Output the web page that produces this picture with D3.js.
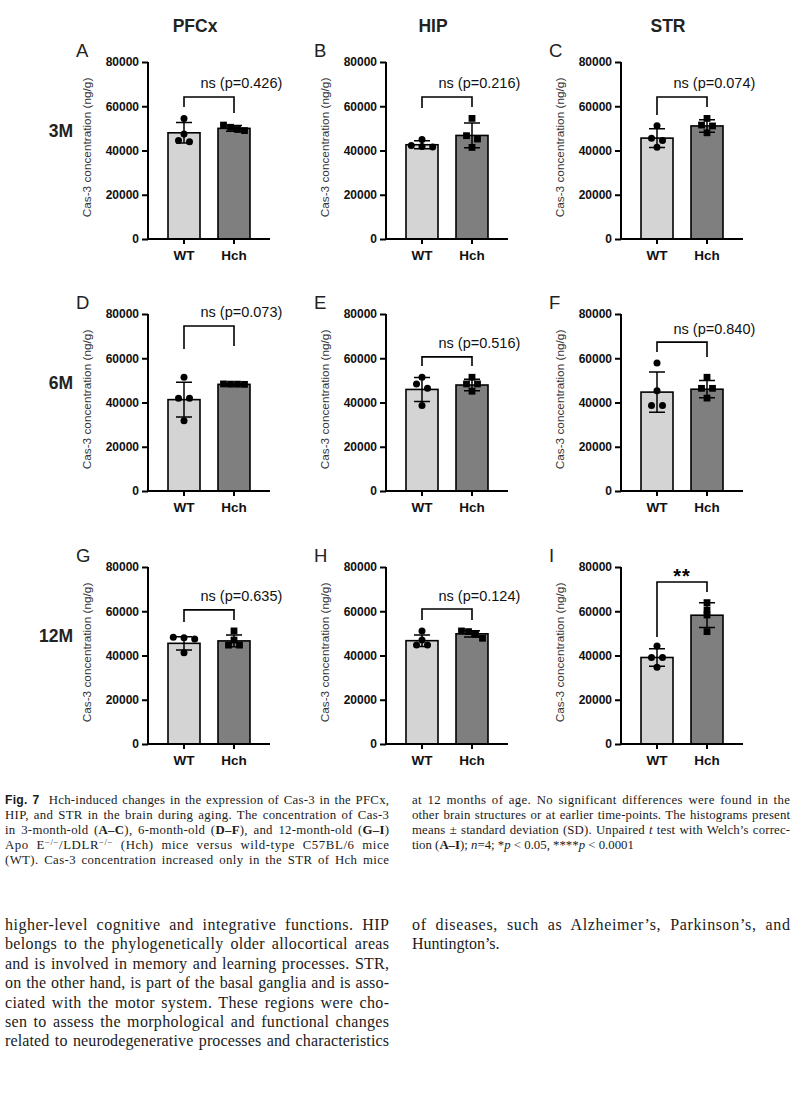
<!DOCTYPE html>
<html><head><meta charset="utf-8">
<script src="https://cdn.jsdelivr.net/npm/d3@7"></script>
<style>body{margin:0;background:#fff} svg{display:block}</style>
</head><body>
<svg id="c" width="799" height="1100"></svg>
<script>
// ---------- data ----------
const regions = ["PFCx", "HIP", "STR"];
const ages = ["3M", "6M", "12M"];
const panelLetters = ["A", "B", "C", "D", "E", "F", "G", "H", "I"];
const groups = ["WT", "Hch"];
const yTicks = [0, 20000, 40000, 60000, 80000];
const wtMean = [48000, 42600, 45600, 41300, 45900, 44700, 45500, 46700, 39100];
const wtSD = [4600, 1800, 4200, 7800, 5400, 9100, 3000, 2600, 4000];
const hchMean = [50000, 46800, 51100, 48200, 47900, 46000, 46600, 49800, 58200];
const hchSD = [1300, 5600, 2800, 250, 2600, 3900, 2700, 1400, 5600];
const wtPoints = [
  [54500, 47500, 44500, 44000],
  [45000, 42300, 41800, 41600],
  [51200, 45500, 44500, 41500],
  [51400, 41900, 41900, 31800],
  [51400, 48400, 46400, 38600],
  [57900, 45300, 38600, 38600],
  [48200, 48000, 47500, 41200],
  [51100, 47000, 44700, 44700],
  [44300, 39100, 39100, 34700]
];
const hchPoints = [
  [51500, 50500, 49500, 49000],
  [54500, 46700, 45200, 41400],
  [54500, 51500, 51100, 48000],
  [48400, 48300, 48300, 48200],
  [51400, 48400, 48400, 45100],
  [51400, 46400, 46400, 42000],
  [51100, 47000, 44700, 44700],
  [51100, 50800, 49600, 47800],
  [63900, 60600, 58300, 50800]
];
const sigLabels = ["ns (p=0.426)", "ns (p=0.216)", "ns (p=0.074)", "ns (p=0.073)", "ns (p=0.516)",
                   "ns (p=0.840)", "ns (p=0.635)", "ns (p=0.124)", "**"];
const bracketTop = [64200, 64200, 64200, 74600, 60600, 67300, 60600, 61000, 73200];
const bracketWT = [59700, 59200, 56000, 64200, 56500, 62800, 55100, 56000, 48400];
const bracketHch = [57000, 59700, 59700, 65500, 56500, 60600, 56000, 56000, 68700];
const yLabel = "Cas-3 concentration (ng/g)";

// ---------- layout ----------
const svg = d3.select("#c");
const colX = [148, 386, 621];
const rowY = [62, 314, 567];
const PH = 177, PW = 122;
const sans = "'Liberation Sans', Arial, Helvetica, sans-serif";
const serif = "'Liberation Serif', 'Times New Roman', serif";
const fills = {WT: "#d4d4d4", Hch: "#7f7f7f"};

regions.forEach((r, c) => {
  svg.append("text").attr("x", colX[c] + 47).attr("y", 32).attr("text-anchor", "middle")
    .attr("font-family", sans).attr("font-weight", "bold").attr("font-size", 17.5).attr("fill", "#222").text(r);
});
ages.forEach((a, r) => {
  svg.append("text").attr("x", 73).attr("y", rowY[r] + 75).attr("text-anchor", "end")
    .attr("font-family", sans).attr("font-weight", "bold").attr("font-size", 17.5).attr("fill", "#222").text(a);
});

function swarm(vals, y) {
  const pts = vals.map(v => ({v, py: y(v)})).sort((a, b) => a.py - b.py);
  const clusters = [];
  pts.forEach(p => {
    const last = clusters[clusters.length - 1];
    if (last && p.py - last[last.length - 1].py < 4.5) last.push(p); else clusters.push([p]);
  });
  clusters.forEach(cl => {
    const n = cl.length;
    const sp = n === 2 ? 11 : n === 3 ? 10.7 : 7;
    cl.forEach((p, i) => p.dx = (i - (n - 1) / 2) * sp);
  });
  return pts;
}

panelLetters.forEach((L, i) => {
  const c = i % 3, r = Math.floor(i / 3);
  const x0 = colX[c], yTop = rowY[r];
  const y = d3.scaleLinear().domain([0, 80000]).range([yTop + PH, yTop]);
  const x = d3.scaleBand().domain(groups).range([x0, x0 + PW]).paddingInner(0.36).paddingOuter(0.4);
  const bw = x.bandwidth();
  const g = svg.append("g");

  g.append("text").attr("x", x0 - 72).attr("y", yTop - 5).attr("font-family", sans)
    .attr("font-size", 18.5).attr("fill", "#222").text(L);

  g.append("text").attr("transform", `translate(${x0 - 57},${yTop + PH / 2 - 3}) rotate(-90)`)
    .attr("text-anchor", "middle").attr("font-family", sans).attr("font-size", 11.8).attr("fill", "#333").text(yLabel);

  const means = [wtMean[i], hchMean[i]], sds = [wtSD[i], hchSD[i]], pts = [wtPoints[i], hchPoints[i]];

  groups.forEach((gr, k) => {
    const cx = x(gr) + bw / 2;
    g.append("rect").attr("x", x(gr)).attr("y", y(means[k])).attr("width", bw)
      .attr("height", y(0) - y(means[k])).attr("fill", fills[gr]).attr("stroke", "#000").attr("stroke-width", 1.6);
    const lo = y(means[k] - sds[k]), hi = y(means[k] + sds[k]);
    g.append("path").attr("d", `M${cx},${lo}V${hi}M${cx - 8},${hi}H${cx + 8}M${cx - 8},${lo}H${cx + 8}`)
      .attr("stroke", "#000").attr("stroke-width", 1.5).attr("fill", "none");
    swarm(pts[k], y).forEach(p => {
      if (gr === "WT") g.append("circle").attr("cx", cx + p.dx).attr("cy", p.py).attr("r", 3.5).attr("fill", "#000");
      else g.append("rect").attr("x", cx + p.dx - 3.4).attr("y", p.py - 3.4).attr("width", 6.8).attr("height", 6.8).attr("fill", "#000");
    });
  });

  const ya = d3.axisLeft(y).tickValues(yTicks).tickSize(6).tickSizeOuter(0).tickPadding(3).tickFormat(d3.format("d"));
  const yg = g.append("g").attr("transform", `translate(${x0},0)`).call(ya);
  yg.select(".domain").attr("stroke-width", 2).attr("d", `M0,${y(0) + 1}V${y(80000)}`);
  yg.selectAll(".tick line").attr("stroke-width", 2);
  yg.selectAll(".tick text").attr("font-family", sans).attr("font-weight", "bold").attr("font-size", 12).attr("fill", "#111");
  const xa = d3.axisBottom(x).tickSize(5).tickSizeOuter(0).tickPadding(6);
  const xg = g.append("g").attr("transform", `translate(0,${y(0)})`).call(xa);
  xg.select(".domain").attr("stroke-width", 2).attr("d", `M${x0 - 1},0H${x0 + PW}`);
  xg.selectAll(".tick line").attr("stroke-width", 2);
  xg.selectAll(".tick text").attr("font-family", sans).attr("font-weight", "bold").attr("font-size", 13.5).attr("fill", "#111");

  const xa1 = x("WT") + bw / 2, xa2 = x("Hch") + bw / 2;
  g.append("path").attr("d", `M${xa1},${y(bracketWT[i])}V${y(bracketTop[i])}H${xa2}V${y(bracketHch[i])}`)
    .attr("stroke", "#000").attr("stroke-width", 1.6).attr("fill", "none");
  const mid = (xa1 + xa2) / 2;
  if (sigLabels[i] === "**") {
    g.append("text").attr("x", mid).attr("y", y(bracketTop[i]) + 1).attr("text-anchor", "middle")
      .attr("font-family", sans).attr("font-weight", "bold").attr("font-size", 20).attr("letter-spacing", 1).attr("fill", "#000").text("**");
  } else {
    g.append("text").attr("x", mid - 8.5).attr("y", y(bracketTop[i]) - 8.5)
      .attr("font-family", sans).attr("font-size", 14.5).attr("fill", "#111").text(sigLabels[i]);
  }
});

// ---------- caption & body text ----------
function textLine(x, y, w, parts, size, justify) {
  const t = svg.append("text").attr("x", x).attr("y", y).attr("font-family", serif)
    .attr("font-size", size).attr("fill", "#1a1a1a").style("white-space", "pre");
  let shift = 0;
  parts.forEach(p => {
    const [s, st] = typeof p === "string" ? [p, ""] : p;
    const ts = t.append("tspan").text(s);
    if (st.includes("b")) ts.attr("font-weight", "bold");
    if (st.includes("i")) ts.attr("font-style", "italic");
    if (st.includes("f")) ts.attr("font-family", sans).attr("font-size", size * 0.95);
    const target = st.includes("s") ? -4.5 : 0;
    if (target !== shift) { ts.attr("dy", target - shift); shift = target; }
    if (st.includes("s")) ts.attr("font-size", size * 0.68);
  });
  if (justify) {
    const nat = t.node().getComputedTextLength();
    const nSp = (t.text().match(/ /g) || []).length;
    if (nat < w && nSp > 0) t.attr("word-spacing", 0.45 * (w - nat) / nSp);
    t.attr("textLength", w).attr("lengthAdjust", nat < w ? "spacing" : "spacingAndGlyphs");
  }
}

const capL = [
  [["Fig. 7", "bf"], "  Hch-induced changes in the expression of Cas-3 in the PFCx,"],
  ["HIP, and STR in the brain during aging. The concentration of Cas-3"],
  ["in 3-month-old (", ["A–C", "b"], "), 6-month-old (", ["D–F", "b"], "), and 12-month-old (", ["G–I", "b"], ")"],
  ["Apo E", ["−/−", "s"], "/LDLR", ["−/−", "s"], " (Hch) mice versus wild-type C57BL/6 mice"],
  ["(WT). Cas-3 concentration increased only in the STR of Hch mice"]
];
const capR = [
  ["at 12 months of age. No significant differences were found in the"],
  ["other brain structures or at earlier time-points. The histograms present"],
  ["means ± standard deviation (SD). Unpaired ", ["t", "i"], " test with Welch’s correc-"],
  ["tion (", ["A–I", "b"], "); ", ["n", "i"], "=4; *", ["p", "i"], " < 0.05, ****", ["p", "i"], " < 0.0001"]
];
capL.forEach((l, k) => textLine(5, 804 + k * 15, 384, l, 12.8, true));
capR.forEach((l, k) => textLine(412, 804 + k * 15, 378, l, 12.8, k < 3));

const bodyL = [
  "higher-level cognitive and integrative functions. HIP",
  "belongs to the phylogenetically older allocortical areas",
  "and is involved in memory and learning processes. STR,",
  "on the other hand, is part of the basal ganglia and is asso-",
  "ciated with the motor system. These regions were cho-",
  "sen to assess the morphological and functional changes",
  "related to neurodegenerative processes and characteristics"
];
const bodyR = [
  "of diseases, such as Alzheimer’s, Parkinson’s, and",
  "Huntington’s."
];
bodyL.forEach((l, k) => textLine(5, 930 + k * 19.4, 384, [l], 16, true));
bodyR.forEach((l, k) => textLine(412, 930 + k * 19.4, 378, [l], 16, k < 1));
</script>
</body></html>
